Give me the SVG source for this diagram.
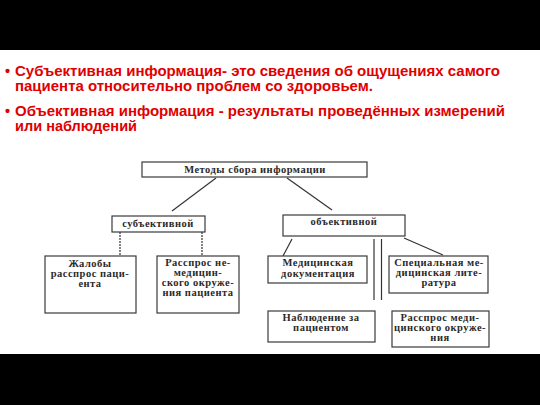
<svg xmlns="http://www.w3.org/2000/svg" width="540" height="405" viewBox="0 0 540 405">
<style>
.t{font-family:"Liberation Sans",Arial,sans-serif;font-weight:bold;font-size:14.5px;fill:#e00000}
.b{fill:#fff;stroke:#3a3a3a;stroke-width:1.2}
.bt{font-family:"Liberation Serif","Times New Roman",serif;font-weight:bold;font-size:10.5px;letter-spacing:0.5px;fill:#2a2a2a;text-anchor:middle}
.c{stroke:#333;stroke-width:1.2;fill:none}
.d{stroke:#333;stroke-width:1.2;fill:none;stroke-dasharray:2 1}
</style>
<rect x="0" y="0" width="540" height="405" fill="#fff"/>
<rect x="0" y="0" width="540" height="50" fill="#000"/>
<rect x="0" y="354" width="540" height="51" fill="#000"/>
<g id="text">
<text class="t" x="5" y="76">•</text>
<text class="t" x="15" y="76" textLength="485" lengthAdjust="spacingAndGlyphs">Субъективная информация- это сведения об ощущениях самого</text>
<text class="t" x="15" y="91" textLength="358" lengthAdjust="spacingAndGlyphs">пациента относительно проблем со здоровьем.</text>
<text class="t" x="5" y="116">•</text>
<text class="t" x="15" y="116" textLength="490" lengthAdjust="spacingAndGlyphs">Объективная информация - результаты проведённых измерений</text>
<text class="t" x="15" y="131" textLength="122" lengthAdjust="spacingAndGlyphs">или наблюдений</text>
</g>
<g id="connectors">
<line class="c" x1="216" y1="178" x2="172" y2="211"/>
<line class="c" x1="287" y1="178" x2="332" y2="210"/>
<line class="d" x1="120" y1="232" x2="120" y2="256"/>
<line class="d" x1="202" y1="232" x2="202" y2="256"/>
<line class="c" x1="292" y1="239" x2="283" y2="256"/>
<line class="c" x1="404" y1="238" x2="443" y2="255"/>
<line class="c" x1="374" y1="239" x2="374" y2="300"/>
<line class="c" x1="381.5" y1="239" x2="381.5" y2="300"/>
</g>
<g id="root">
<rect class="b" x="142" y="162" width="225" height="15"/>
<text class="bt" x="255" y="172.5" font-size="10.5" letter-spacing="0.8">Методы сбора информации</text>
</g>
<g id="subj">
<rect class="b" x="112" y="216" width="93" height="16"/>
<text class="bt" x="158" y="227">субъективной</text>
</g>
<g id="obj">
<rect class="b" x="283" y="215" width="122" height="21"/>
<text class="bt" x="344" y="225">объективной</text>
</g>
<g id="complaints">
<rect class="b" x="45" y="256" width="91" height="57"/>
<text class="bt" x="90" y="267">Жалобы</text>
<text class="bt" x="90" y="277">расспрос паци-</text>
<text class="bt" x="90" y="287">ента</text>
</g>
<g id="nonmed">
<rect class="b" x="157" y="256" width="82" height="57"/>
<text class="bt" x="198" y="266">Расспрос не-</text>
<text class="bt" x="198" y="276">медицин-</text>
<text class="bt" x="198" y="286">ского окруже-</text>
<text class="bt" x="198" y="296">ния пациента</text>
</g>
<g id="meddoc">
<rect class="b" x="268" y="256" width="99" height="27"/>
<text class="bt" x="318" y="266">Медицинская</text>
<text class="bt" x="318" y="277">документация</text>
</g>
<g id="medlit">
<rect class="b" x="389" y="256" width="99" height="37"/>
<text class="bt" x="439" y="266">Специальная ме-</text>
<text class="bt" x="439" y="276">дицинская лите-</text>
<text class="bt" x="439" y="286">ратура</text>
</g>
<g id="observe">
<rect class="b" x="268" y="311" width="107" height="31"/>
<text class="bt" x="321" y="321">Наблюдение за</text>
<text class="bt" x="321" y="331">пациентом</text>
</g>
<g id="medenv">
<rect class="b" x="392" y="311" width="97" height="36"/>
<text class="bt" x="440" y="321">Расспрос меди-</text>
<text class="bt" x="440" y="331">цинского окруже-</text>
<text class="bt" x="440" y="341">ния</text>
</g>
</svg>
